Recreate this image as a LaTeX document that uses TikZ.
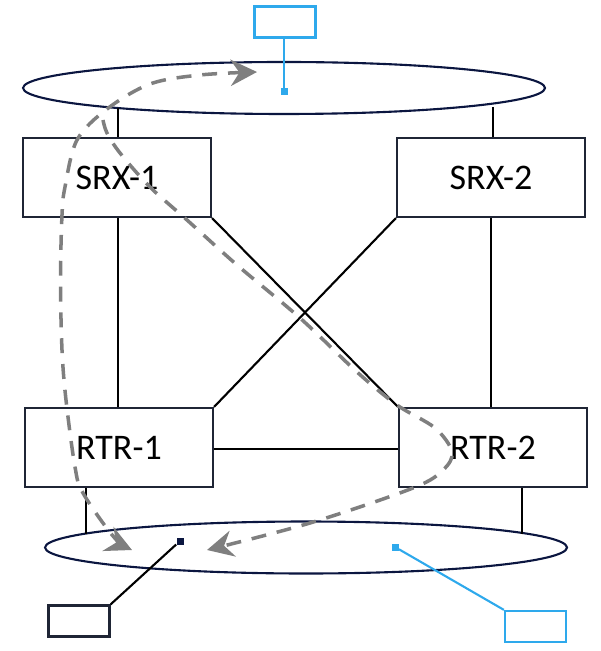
\documentclass[tikz,border=0pt]{standalone}
\usepackage{fontspec}
\setmainfont{Carlito}
\usetikzlibrary{arrows.meta,shapes.geometric}
\definecolor{navy}{HTML}{0B1640}
\definecolor{boxline}{HTML}{1F2535}
\definecolor{skyline}{HTML}{2EA9EC}
\definecolor{flowgray}{HTML}{7F7F7F}

\begin{document}
\begin{tikzpicture}[x=0.02cm,y=-0.02cm,
        >={Stealth[length=15pt,width=15pt,inset=5pt,flowgray]},
        device/.style={draw=boxline, line width=1.2pt, minimum width=3.76cm, minimum height=1.58cm, inner sep=0pt, font=\fontsize{20.5}{23}\selectfont},
        segment/.style={draw=navy, ellipse, line width=1.2pt, minimum width=10.44cm, minimum height=1.04cm, inner sep=0pt},
        tag/.style={draw=#1, line width=1.3pt, minimum width=1.22cm, minimum height=0.62cm, inner sep=0pt},
        port/.style={fill=#1, minimum size=0.14cm, inner sep=0pt},
        link/.style={line width=1.2pt, black},
        flow/.style={draw=flowgray, line width=2pt, dash pattern=on 8.5pt off 6.2pt}]
    \useasboundingbox (0,0) rectangle (600,651);

    % Segments
    \node[segment] (lantop) at (284,88) {};
    \node[segment] (lanbot) at (306,547.5) {};

    % Devices
    \node[device] (srx1) at (117,177.5) {SRX-1};
    \node[device] (srx2) at (491,177.5) {SRX-2};
    \node[device] (rtr1) at (119,447.5) {RTR-1};
    \node[device] (rtr2) at (493,447.5) {RTR-2};

    % Attachment points on the segments
    \coordinate (srx1up) at (118,108);
    \coordinate (srx2up) at (493,107);
    \coordinate (rtr1dn) at (86,534);
    \coordinate (rtr2dn) at (522,534);
    \coordinate (rtrlink) at (300,449);

    % Links
    \draw[link] (srx1up) -- (srx1up |- srx1.north);
    \draw[link] (srx2up) -- (srx2up |- srx2.north);
    \draw[link] (srx1up |- srx1.south) -- (srx1up |- rtr1.north);
    \draw[link] (srx2.south) -- (srx2.south |- rtr2.north);
    \draw[link] (srx1.south east) -- (rtr2.north west);
    \draw[link] (srx2.south west) -- (rtr1.north east);
    \draw[link] (rtr1.east |- rtrlink) -- (rtr2.west |- rtrlink);
    \draw[link] (rtr1dn |- rtr1.south) -- (rtr1dn);
    \draw[link] (rtr2dn |- rtr2.south) -- (rtr2dn);

    % Tags and ports
    \node[tag=skyline] (tagtop) at (285,22) {};
    \node[port=skyline] (porttop) at (284,92) {};
    \draw[link, skyline] (tagtop.south -| porttop) -- (porttop);

    \node[tag=boxline] (tagleft) at (79,621) {};
    \node[port=navy] (portleft) at (180,541) {};
    \draw[link] (tagleft.north east) -- (portleft);

    \node[tag=skyline] (tagright) at (535.5,626.5) {};
    \node[port=skyline] (portright) at (395,547) {};
    \draw[link, skyline] (tagright.north west) -- (portright);

    % Traffic paths
    \draw[flow, <->] plot[smooth, tension=0.55] coordinates {(132,550) (113,536) (83,493) (75,467) (66,400) (62,350) (60.5,280) (62,215) (65,187) (77,140) (107,109) (150,84) (200,75) (257,72)};
    \draw[flow, ->] plot[smooth, tension=0.55] coordinates {(103,120) (107,133) (120,153) (150,187) (187,220) (237,265) (300,318) (357,372) (397,405) (435,428) (452,452) (443,470) (413,488) (310,523) (207,550)};
\end{tikzpicture}
\end{document}
